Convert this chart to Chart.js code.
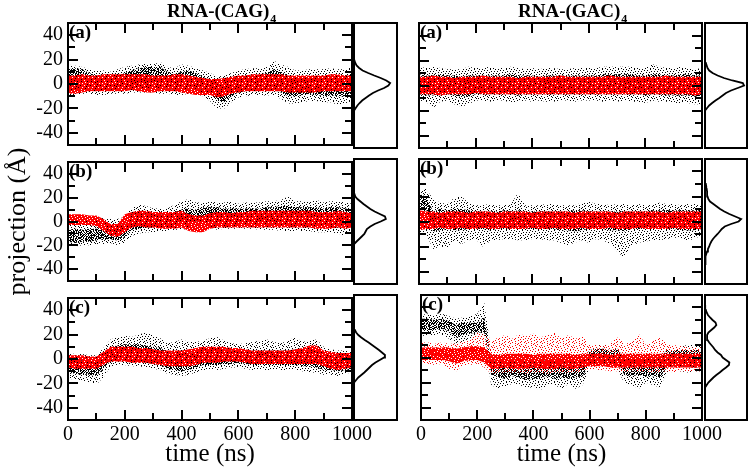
<!DOCTYPE html>
<html>
<head>
<meta charset="utf-8">
<script src="https://cdn.jsdelivr.net/npm/chart.js@4.4.0/dist/chart.umd.min.js"></script>
<style>
  html, body { margin: 0; padding: 0; background: #fff; }
  #fig { position: relative; width: 750px; height: 470px; overflow: hidden; }
  #fig canvas { position: absolute; }
</style>
</head>
<body>
<div id="fig"></div>
<script>
// time grid (ns) shared by every trajectory band
const times = [0,25,50,75,100,125,150,175,200,225,250,275,300,325,350,375,400,425,450,475,
               500,525,550,575,600,625,650,675,700,725,750,775,800,825,850,875,900,925,950,975,1000];
const xTicks = [0,200,400,600,800,1000];
const xMinor = [100,300,500,700,900];
const yTicks = [-40,-20,0,20,40];
const yMinor = [-30,-10,10,30];

// RNA-(CAG)4 (a)
const cagA_blackHi  = [12,13,12,9,7,7,6,7,9,11,13,14,14,14,10,8,10,11,9,6,3,0,-1,3,6,7,7,8,9,12,10,7,5,5,6,6,6,7,6,7,8];
const cagA_blackLo  = [-6,-5,-4,-4,-5,-5,-5,-4,-4,-3,-3,-3,-3,-3,-4,-5,-4,-3,-4,-5,-8,-14,-15,-10,-7,-6,-5,-5,-5,-5,-7,-10,-10,-9,-8,-9,-10,-9,-10,-10,-9];
const cagA_blackMax = [16,15,14,12,11,11,10,12,14,15,16,17,16,18,14,13,16,15,13,11,9,6,7,9,11,12,13,13,14,19,16,14,11,11,12,12,12,13,12,12,14];
const cagA_blackMin = [-10,-9,-8,-8,-9,-9,-8,-8,-8,-7,-7,-7,-7,-8,-8,-9,-9,-8,-8,-10,-14,-20,-20,-15,-11,-10,-9,-10,-9,-10,-12,-16,-16,-15,-14,-14,-15,-15,-17,-16,-14];
const cagA_redHi    = [7,7,8,7,7,8,8,8,8,8,8,8,7,7,7,8,8,7,6,5,4,4,5,6,7,7,8,8,8,8,8,7,7,7,7,7,7,8,8,7,7];
const cagA_redLo    = [-8,-8,-7,-6,-6,-6,-6,-6,-6,-5,-6,-7,-7,-6,-6,-6,-7,-8,-9,-9,-9,-11,-10,-8,-7,-6,-6,-6,-6,-6,-6,-7,-7,-7,-7,-7,-6,-6,-6,-6,-6];

// RNA-(CAG)4 (b)
const cagB_blackHi  = [-7,-6,-7,-6,-6,-4,-3,-2,-3,7,8,7,6,6,5,8,10,11,10,12,12,12,11,11,11,11,11,11,12,12,13,13,12,12,12,12,11,12,12,11,10];
const cagB_blackLo  = [-17,-18,-17,-17,-16,-15,-15,-16,-13,-7,-6,-5,-5,-5,-5,-3,-2,-1,0,0,-1,-2,-2,-2,-2,-2,-2,-2,-2,-3,-3,-3,-3,-3,-3,-3,-3,-4,-4,-4,-3];
const cagB_blackMax = [3,2,1,1,2,3,2,2,4,12,14,13,11,11,11,14,17,19,16,16,17,16,16,17,15,16,16,16,17,17,18,21,17,17,17,18,16,17,17,16,15];
const cagB_blackMin = [-20,-21,-20,-20,-19,-19,-18,-20,-18,-12,-10,-9,-9,-8,-8,-7,-7,-6,-5,-4,-5,-7,-6,-6,-6,-6,-6,-7,-7,-7,-8,-8,-8,-8,-8,-9,-9,-9,-10,-12,-9];
const cagB_redHi    = [6,6,6,5,5,2,-2,-2,6,8,9,9,8,8,8,8,9,6,5,5,7,8,8,7,8,8,9,9,9,9,9,9,9,9,9,8,8,8,9,8,7];
const cagB_redLo    = [-3,-3,-3,-3,-4,-8,-12,-13,-9,-5,-4,-5,-5,-6,-6,-6,-5,-8,-9,-9,-6,-5,-5,-5,-5,-5,-5,-5,-5,-5,-5,-5,-5,-5,-5,-6,-6,-6,-5,-6,-5];

// RNA-(CAG)4 (c)
const cagC_blackHi  = [0,-1,-1,-2,-2,4,10,11,12,12,12,11,10,9,6,5,5,5,6,8,9,8,8,7,6,6,7,7,7,7,7,7,8,7,8,7,4,3,3,3,2];
const cagC_blackLo  = [-11,-12,-13,-13,-14,-8,-2,-1,-1,-2,-2,-3,-4,-5,-8,-9,-10,-9,-7,-5,-5,-5,-4,-4,-3,-4,-5,-5,-5,-5,-5,-5,-5,-6,-6,-7,-9,-9,-10,-9,-8];
const cagC_blackMax = [5,4,4,3,3,9,16,18,19,18,20,22,19,17,13,14,16,14,14,15,17,18,15,13,12,13,14,15,16,14,13,15,18,14,15,16,10,8,7,7,6];
const cagC_blackMin = [-16,-17,-18,-19,-21,-15,-6,-5,-5,-6,-6,-7,-8,-9,-12,-13,-14,-13,-11,-9,-9,-9,-8,-7,-7,-8,-9,-9,-9,-9,-9,-9,-9,-10,-11,-11,-13,-13,-14,-12,-11];
const cagC_redHi    = [3,3,3,2,2,6,10,10,10,10,9,9,8,7,7,7,7,8,9,10,10,10,10,9,9,8,7,7,7,7,7,7,8,9,11,11,7,6,5,5,5];
const cagC_redLo    = [-7,-8,-8,-8,-8,-5,-2,-2,-2,-3,-3,-3,-4,-5,-6,-6,-6,-6,-5,-3,-3,-3,-2,-2,-2,-3,-4,-4,-4,-4,-4,-4,-4,-4,-4,-4,-6,-8,-9,-8,-7];

// RNA-(GAC)4 (a)
const gacA_blackHi  = [9,8,8,9,8,8,7,8,8,8,8,8,8,9,8,8,8,7,8,8,8,8,8,8,8,8,9,9,9,9,9,8,8,9,9,8,8,9,9,8,8];
const gacA_blackLo  = [-7,-8,-8,-7,-7,-8,-9,-9,-7,-7,-7,-7,-7,-7,-8,-7,-7,-7,-7,-7,-7,-7,-7,-7,-7,-7,-7,-7,-7,-7,-7,-7,-8,-7,-7,-8,-8,-8,-8,-9,-8];
const gacA_blackMax = [15,14,15,14,13,13,13,15,14,14,15,14,14,15,14,13,14,13,14,14,13,13,14,14,14,14,15,15,15,15,15,14,14,17,15,14,14,15,14,13,14];
const gacA_blackMin = [-12,-13,-18,-13,-12,-15,-17,-15,-12,-12,-13,-12,-12,-14,-13,-12,-13,-12,-13,-13,-12,-12,-13,-12,-12,-12,-13,-12,-13,-12,-13,-13,-14,-12,-13,-13,-14,-14,-14,-15,-15];
const gacA_redHi    = [7,7,8,7,7,6,7,7,7,8,7,7,7,7,6,7,7,7,7,7,8,7,7,7,7,7,7,8,7,7,7,7,7,7,7,8,7,7,7,7,7];
const gacA_redLo    = [-7,-7,-7,-8,-7,-7,-7,-7,-6,-7,-7,-7,-7,-7,-7,-7,-7,-7,-7,-7,-7,-7,-7,-7,-7,-7,-7,-7,-7,-7,-7,-7,-7,-7,-7,-7,-7,-7,-7,-8,-7];

// RNA-(GAC)4 (b)
const gacB_blackHi  = [22,20,8,10,9,10,10,9,8,8,8,8,9,8,9,8,8,8,8,8,8,8,9,9,8,8,8,8,8,8,8,8,8,9,9,9,9,9,9,9,9];
const gacB_blackLo  = [10,10,-8,-7,-6,-7,-7,-6,-6,-6,-7,-6,-6,-6,-6,-6,-6,-6,-6,-6,-7,-7,-8,-7,-6,-6,-6,-7,-7,-8,-6,-6,-6,-6,-6,-6,-6,-7,-7,-7,-6];
const gacB_blackMax = [26,26,18,15,14,19,20,15,13,13,14,13,13,14,23,13,13,13,14,14,13,13,13,15,16,14,14,13,14,14,13,14,13,14,15,14,14,13,14,14,13];
const gacB_blackMin = [-8,-10,-22,-20,-21,-15,-18,-15,-14,-20,-16,-15,-14,-14,-15,-15,-14,-14,-15,-15,-17,-19,-17,-15,-17,-14,-15,-18,-24,-29,-20,-17,-16,-15,-15,-14,-13,-13,-16,-13,-12];
const gacB_redHi    = [9,8,8,7,8,8,8,7,8,8,8,7,8,8,8,8,7,8,8,8,8,8,7,8,8,8,8,8,7,8,8,8,8,8,8,7,8,8,8,8,8];
const gacB_redLo    = [-7,-6,-6,-5,-6,-6,-5,-6,-6,-5,-6,-6,-5,-6,-6,-6,-5,-6,-6,-5,-6,-6,-6,-5,-6,-6,-6,-5,-6,-6,-6,-5,-6,-6,-6,-6,-5,-6,-6,-6,-6];

// RNA-(GAC)4 (c)
const gacC_blackHi  = [31,31,30,31,29,26,28,28,28,32,-2,-3,-3,-3,-2,-3,-3,-3,-2,-3,-3,-3,-3,-2,6,7,7,6,7,-1,-1,-1,-1,-1,-1,6,6,6,6,6,6];
const gacC_blackLo  = [22,22,22,23,21,16,18,19,20,20,-14,-16,-17,-15,-16,-18,-17,-17,-15,-17,-16,-17,-16,-15,-5,-5,-5,-5,-6,-14,-15,-14,-15,-15,-16,-8,-7,-7,-8,-8,-8];
const gacC_blackMax = [35,34,34,35,33,31,32,33,35,44,4,3,3,5,5,7,6,4,6,6,5,4,5,4,10,10,10,11,10,4,4,3,3,4,4,10,9,9,10,10,10];
const gacC_blackMin = [17,18,18,18,15,10,12,13,13,14,-22,-25,-23,-21,-22,-24,-24,-26,-22,-22,-25,-21,-25,-22,-9,-9,-9,-9,-10,-21,-22,-25,-20,-22,-24,-12,-11,-11,-12,-11,-11];
const gacC_redHi    = [8,8,8,8,8,7,8,9,9,8,3,2,3,3,3,3,2,3,3,3,3,3,2,3,3,3,3,2,3,3,3,3,3,3,3,3,3,3,3,3,3];
const gacC_redLo    = [-2,-2,-2,-2,-3,-5,-3,-2,-2,-4,-9,-9,-8,-9,-9,-9,-8,-9,-9,-9,-8,-9,-9,-8,-7,-7,-7,-8,-8,-8,-8,-8,-8,-8,-8,-8,-8,-8,-8,-8,-8];
const gacC_redMax   = [12,12,11,12,11,11,13,15,20,18,13,16,18,15,19,17,19,16,18,20,15,18,15,17,10,10,9,12,16,11,12,19,10,13,16,11,10,9,8,8,8];
const gacC_redMin   = [-5,-5,-6,-5,-9,-11,-6,-6,-5,-8,-13,-12,-12,-12,-12,-13,-12,-12,-13,-12,-12,-12,-12,-11,-10,-10,-10,-11,-11,-11,-11,-11,-11,-12,-12,-11,-12,-11,-11,-11,-11];

// projection grid (Å) and normalised histograms for the side panels
const distY = [-34,-32,-30,-28,-26,-24,-22,-20,-18,-16,-14,-12,-10,-8,-6,-4,-2,0,2,4,6,8,10,12,14,16,18,20,22,24,26,28,30,32,34,36,38,40,42];
const cagA_pdf = [0,0,0,0,0,0,0.005,0.015,0.04,0.08,0.13,0.19,0.27,0.35,0.44,0.56,0.7,0.8,0.84,0.75,0.62,0.47,0.33,0.2,0.12,0.06,0.03,0.01,0.005,0,0,0,0,0,0,0,0,0,0];
const cagB_pdf = [0,0,0,0,0,0,0,0,0.02,0.06,0.12,0.18,0.24,0.27,0.3,0.38,0.48,0.62,0.74,0.72,0.6,0.48,0.38,0.3,0.22,0.15,0.08,0.03,0.01,0.005,0,0,0,0,0,0,0,0,0];
const cagC_pdf = [0,0,0,0,0,0,0,0.02,0.05,0.1,0.17,0.24,0.3,0.36,0.42,0.5,0.6,0.7,0.72,0.65,0.58,0.5,0.42,0.34,0.25,0.17,0.1,0.05,0.02,0.01,0,0,0,0,0,0,0,0,0];
const gacA_pdf = [0,0,0,0,0,0,0,0.02,0.05,0.1,0.17,0.25,0.34,0.42,0.5,0.62,0.78,0.93,0.9,0.65,0.45,0.3,0.18,0.1,0.06,0.04,0.02,0.01,0,0,0,0,0,0,0,0,0,0,0];
const gacB_pdf = [0,0.005,0.01,0.02,0.03,0.05,0.07,0.1,0.12,0.15,0.19,0.24,0.3,0.35,0.4,0.47,0.62,0.8,0.86,0.72,0.58,0.46,0.36,0.28,0.2,0.12,0.08,0.06,0.05,0.05,0.04,0.03,0.02,0.01,0,0,0,0,0];
const gacC_pdf = [0,0,0,0,0,0.01,0.04,0.08,0.14,0.2,0.27,0.35,0.42,0.5,0.57,0.58,0.5,0.42,0.38,0.3,0.24,0.2,0.15,0.1,0.06,0.05,0.05,0.08,0.15,0.22,0.27,0.25,0.18,0.12,0.07,0.04,0.02,0.01,0];

const SERIF = "'Liberation Serif', 'Times New Roman', serif";

// layout of the figure (pixels)
const COLS = [
  { plotX: 68,  plotW: 284, distX: 354, distW: 43, showY: true,  title: 'RNA-(CAG)', titleX: 167 },
  { plotX: 419, plotW: 283, distX: 705, distW: 42, showY: false, title: 'RNA-(GAC)', titleX: 518 }
];
const ROWS = [ { y: 23, h: 125 }, { y: 159, h: 125 }, { y: 295, h: 125 } ];

const panels = [
  { col: 0, row: 0, letter: '(a)', bHi: cagA_blackHi, bLo: cagA_blackLo, bMax: cagA_blackMax, bMin: cagA_blackMin, rHi: cagA_redHi, rLo: cagA_redLo, pdf: cagA_pdf },
  { col: 0, row: 1, letter: '(b)', bHi: cagB_blackHi, bLo: cagB_blackLo, bMax: cagB_blackMax, bMin: cagB_blackMin, rHi: cagB_redHi, rLo: cagB_redLo, pdf: cagB_pdf },
  { col: 0, row: 2, letter: '(c)', bHi: cagC_blackHi, bLo: cagC_blackLo, bMax: cagC_blackMax, bMin: cagC_blackMin, rHi: cagC_redHi, rLo: cagC_redLo, pdf: cagC_pdf },
  { col: 1, row: 0, letter: '(a)', bHi: gacA_blackHi, bLo: gacA_blackLo, bMax: gacA_blackMax, bMin: gacA_blackMin, rHi: gacA_redHi, rLo: gacA_redLo, pdf: gacA_pdf },
  { col: 1, row: 1, letter: '(b)', bHi: gacB_blackHi, bLo: gacB_blackLo, bMax: gacB_blackMax, bMin: gacB_blackMin, rHi: gacB_redHi, rLo: gacB_redLo, pdf: gacB_pdf },
  { col: 1, row: 2, letter: '(c)', bHi: gacC_blackHi, bLo: gacC_blackLo, bMax: gacC_blackMax, bMin: gacC_blackMin, rHi: gacC_redHi, rLo: gacC_redLo, rMax: gacC_redMax, rMin: gacC_redMin, pdf: gacC_pdf }
];

// speckle textures so the bands look like clouds of dots
function speckle(color, rows) {
  const c = document.createElement('canvas');
  c.width = rows[0].length; c.height = rows.length;
  const g = c.getContext('2d');
  g.fillStyle = color;
  rows.forEach((r, j) => {
    for (let i = 0; i < r.length; i++) if (r[i] === 'x') g.fillRect(i, j, 1, 1);
  });
  return g.createPattern(c, 'repeat');
}
const DENSE = ['x.xx.x..x.', '.x..x.xx..', 'xx.x..x.xx', 'x..x.xx.x.', '.xx..x.x..',
               'x..x.xx..x', '.x.x..x.x.', 'xx..x.x..x', 'x.x..x.xx.', '.x.xx...x.'];
const SOLID = ['xxxx.xxxxx', 'x.xxxxx.xx', 'xxxxx.xxxx', 'xx.xxxxxx.', 'xxxxxxx.xx',
               '.xxx.xxxxx', 'xxxxxx.xxx', 'xx.xxxxx.x', 'xxxxx.xxxx', 'x.xxxxxxxx'];
const SPARSE = ['x.....x...x.....', '...x.......x..x.', '.x.....x.......x', '....x.....x.....',
                'x.......x....x..', '..x..x.......x..', '.......x..x.....', '.x..x.........x.',
                '.........x..x...', 'x..x..x.........', '.....x.....x..x.', '..x......x......',
                'x.....x.....x...', '...x.......x...x', '.x....x..x......', '........x...x...'];
const PAT = {
  blackCore: speckle('#000', DENSE),
  blackHaze: speckle('#000', SPARSE),
  redCore: speckle('#ff0000', SOLID),
  redHaze: speckle('#ff0000', SPARSE)
};

// frame, inward tick marks and panel labels, drawn on top of each panel
function makeFrame(spec) {
  return {
    id: 'frame',
    afterDraw(chart) {
      const ctx = chart.ctx;
      const a = chart.chartArea;
      const sx = chart.scales.x, sy = chart.scales.y;
      ctx.save();
      ctx.fillStyle = '#000';
      if (spec.inward) {
        const xs = xTicks.concat(xMinor);
        for (let i = 0; i < xs.length; i++) {
          const v = xs[i];
          if (v <= 0 || v >= 1000) continue;
          const p = Math.round(sx.getPixelForValue(v));
          const len = i < xTicks.length ? 10 : 7;
          ctx.fillRect(p - 1, a.top, 2, len);
          ctx.fillRect(p - 1, a.bottom - len, 2, len);
        }
        const ys = yTicks.concat(yMinor);
        for (let i = 0; i < ys.length; i++) {
          const p = Math.round(sy.getPixelForValue(ys[i]));
          const len = i < yTicks.length ? 10 : 7;
          ctx.fillRect(a.left, p - 1, len, 2);
          ctx.fillRect(a.right - len, p - 1, len, 2);
        }
      }
      ctx.strokeStyle = '#000';
      ctx.lineWidth = 2;
      ctx.strokeRect(a.left, a.top, a.right - a.left, a.bottom - a.top);
      if (spec.letter) {
        ctx.font = 'bold 19px ' + SERIF;
        ctx.textBaseline = 'top';
        ctx.fillText(spec.letter, a.left + 1, a.top + 1);
      }
      if (spec.title) {
        ctx.textBaseline = 'alphabetic';
        ctx.font = 'bold 19px ' + SERIF;
        ctx.fillText(spec.title.main, spec.title.x, spec.title.y);
        const w = ctx.measureText(spec.title.main).width;
        ctx.font = 'bold 12px ' + SERIF;
        ctx.fillText(spec.title.sub, spec.title.x + w + 1, spec.title.y + 6);
      }
      ctx.restore();
    }
  };
}

const fig = document.getElementById('fig');
function addCanvas(left, top, w, h) {
  const c = document.createElement('canvas');
  c.width = w; c.height = h;
  c.style.left = left + 'px'; c.style.top = top + 'px';
  c.style.width = w + 'px'; c.style.height = h + 'px';
  fig.appendChild(c);
  return c;
}

function pts(arr) { return arr.map((v, i) => ({ x: times[i], y: v })); }
function band(list, hi, lo, fillStyle) {
  const common = { borderWidth: 1, borderColor: 'rgba(0,0,0,0)', pointRadius: 0, pointHoverRadius: 0, tension: 0 };
  list.push(Object.assign({ data: pts(hi), fill: '+1', backgroundColor: fillStyle }, common));
  list.push(Object.assign({ data: pts(lo), fill: false }, common));
}

function scatterPanel(p) {
  const col = COLS[p.col], row = ROWS[p.row];
  const l = col.showY ? 68 : 6;
  const t = p.row === 0 ? 23 : 14;
  const r = 25;
  const b = p.row === 2 ? 50 : 14;
  const left = col.plotX - l, top = row.y - t;
  const canvas = addCanvas(left, top, col.plotW + l + r, row.h + t + b);

  const datasets = [];
  band(datasets, p.rHi, p.rLo, PAT.redCore);
  if (p.rMax) band(datasets, p.rMax, p.rMin, PAT.redHaze);
  band(datasets, p.bHi, p.bLo, PAT.blackCore);
  band(datasets, p.bMax, p.bMin, PAT.blackHaze);

  const tickFont = { family: SERIF, size: 20 };
  new Chart(canvas, {
    type: 'line',
    data: { datasets: datasets },
    options: {
      responsive: false,
      animation: false,
      events: [],
      layout: { padding: { left: 0, top: t, right: r, bottom: 0 } },
      plugins: { legend: { display: false }, tooltip: { enabled: false } },
      scales: {
        x: {
          type: 'linear', min: 0, max: 1000,
          afterBuildTicks: s => { s.ticks = xTicks.map(v => ({ value: v })); },
          afterFit: s => { s.height = b; },
          grid: { display: false, drawTicks: false }, border: { display: false },
          ticks: { display: p.row === 2, font: tickFont, color: '#000', padding: 3, maxRotation: 0, minRotation: 0, autoSkip: false,
                   callback: v => String(v) },
          title: { display: p.row === 2, text: 'time (ns)', color: '#000', font: { family: SERIF, size: 25 }, padding: { top: 0, bottom: 1 } }
        },
        y: {
          type: 'linear', min: -50, max: 50,
          afterBuildTicks: s => { s.ticks = yTicks.map(v => ({ value: v })); },
          afterFit: s => { s.width = l; },
          grid: { display: false, drawTicks: false }, border: { display: false },
          ticks: { display: col.showY, font: tickFont, color: '#000', padding: 5, callback: v => String(v) },
          title: { display: col.showY && p.row === 1, text: 'projection (Å)', color: '#000', font: { family: SERIF, size: 26 }, padding: { top: 3, bottom: 0 } }
        }
      }
    },
    plugins: [makeFrame({
      inward: true,
      letter: p.letter,
      title: p.row === 0 ? { main: col.title, sub: '4', x: col.titleX - left, y: 17 - top } : null
    })]
  });
}

function distPanel(p) {
  const col = COLS[p.col], row = ROWS[p.row];
  const m = 2;
  const canvas = addCanvas(col.distX - m, row.y - m, col.distW + 2 * m, row.h + 2 * m);
  new Chart(canvas, {
    type: 'line',
    data: {
      datasets: [{
        data: p.pdf.map((v, i) => ({ x: v, y: distY[i] })),
        borderColor: '#000', borderWidth: 1.8, pointRadius: 0, fill: false, tension: 0
      }]
    },
    options: {
      indexAxis: 'y',
      responsive: false,
      animation: false,
      events: [],
      layout: { padding: m },
      plugins: { legend: { display: false }, tooltip: { enabled: false } },
      scales: {
        x: { type: 'linear', display: false, min: 0, max: 1 },
        y: { type: 'linear', display: false, min: -50, max: 50 }
      }
    },
    plugins: [makeFrame({ inward: false })]
  });
}

panels.forEach(p => { scatterPanel(p); distPanel(p); });
</script>
</body>
</html>
